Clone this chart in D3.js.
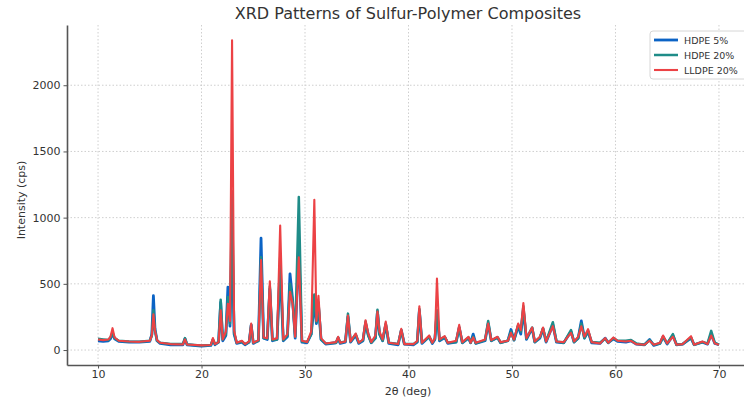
<!DOCTYPE html>
<html>
<head>
<meta charset="utf-8">
<script src="https://cdn.jsdelivr.net/npm/d3@7"></script>
<style>
  body { margin: 0; background: #fff; }
  text { font-family: "DejaVu Sans", sans-serif; fill: #333; }
</style>
</head>
<body>
<div id="chart"></div>
<script>
// 2θ positions shared by all three scans
var twoTheta = [
  10.0, 10.5, 11.0, 11.2, 11.4, 11.6, 12.0, 13.0, 14.0, 15.0,
  15.2, 15.35, 15.5, 15.7, 16.0, 17.0, 18.2, 18.4, 18.6, 20.0,
  20.9, 21.1, 21.3, 21.65, 21.85, 22.05, 22.35, 22.55, 22.75, 22.95,
  23.15, 23.4, 23.9, 24.2, 24.6, 24.8, 25.0, 25.5, 25.75, 26.0,
  26.35, 26.6, 26.85, 27.3, 27.6, 27.9, 28.3, 28.55, 28.8, 29.05,
  29.4, 29.7, 30.2, 30.6, 30.9, 31.1, 31.3, 31.55, 32.0, 33.0,
  33.2, 33.4, 33.9, 34.15, 34.4, 34.9, 35.2, 35.6, 35.85, 36.1,
  36.4, 36.8, 37.0, 37.2, 37.5, 37.8, 38.1, 39.0, 39.3, 39.6,
  40.5, 40.85, 41.05, 41.3, 42.0, 42.3, 42.55, 42.75, 43.0, 43.5,
  43.8, 44.6, 44.9, 45.2, 45.8, 46.0, 46.25, 46.5, 47.4, 47.7,
  48.0, 48.6, 48.9, 49.6, 49.9, 50.2, 50.6, 50.85, 51.1, 51.4,
  51.95, 52.2, 52.7, 53.0, 53.3, 53.95, 54.3, 55.0, 55.7, 56.0,
  56.4, 56.7, 57.0, 57.35, 57.7, 58.5, 59.0, 59.3, 59.8, 60.2,
  61.0, 61.5, 62.0, 62.8, 63.3, 63.7, 64.3, 64.6, 65.0, 65.55,
  65.9, 66.5, 67.3, 67.6, 68.4, 68.9, 69.25, 69.6, 70.0
];

var hdpe5 = [
  70, 65, 70, 85, 125, 85, 65, 60, 60, 65,
  120, 410, 160, 70, 50, 40, 40, 85, 40, 30,
  35, 75, 40, 60, 360, 70, 110, 475, 180, 880,
  120, 50, 60, 40, 60, 190, 50, 70, 845, 90,
  80, 460, 70, 80, 620, 70, 100, 575, 380, 90,
  770, 60, 55, 120, 360, 200, 330, 80, 45, 55,
  90, 50, 60, 250, 60, 110, 50, 70, 200, 120,
  55, 90, 290, 120, 70, 190, 50, 40, 150, 45,
  40, 60, 300, 50, 100, 50, 80, 290, 70, 95,
  50, 60, 170, 55, 90, 55, 120, 50, 70, 200,
  70, 95, 55, 70, 155, 75, 180, 120, 300, 80,
  165, 60, 90, 160, 60, 190, 60, 55, 140, 60,
  90, 220, 90, 140, 55, 50, 90, 55, 85, 65,
  60, 70, 45, 40, 80, 35, 50, 100, 45, 110,
  40, 45, 90, 40, 60, 45, 120, 50, 40
];

var hdpe20 = [
  85, 80, 75, 95, 130, 90, 70, 65, 62, 70,
  110, 300, 150, 70, 55, 45, 45, 90, 42, 35,
  38, 80, 45, 60, 380, 80, 120, 400, 200, 1200,
  130, 55, 65, 45, 60, 190, 55, 70, 700, 90,
  85, 480, 75, 80, 700, 75, 110, 500, 370, 100,
  1155, 65, 60, 120, 420, 210, 360, 80, 50, 55,
  95, 55, 65, 275, 65, 120, 55, 75, 215, 110,
  55, 90, 305, 120, 70, 200, 55, 45, 150, 45,
  45, 65, 310, 55, 100, 55, 85, 300, 75, 100,
  55, 60, 170, 55, 95, 55, 100, 50, 75, 220,
  70, 95, 55, 70, 140, 75, 190, 140, 330, 85,
  170, 60, 95, 165, 65, 210, 65, 55, 150, 60,
  90, 200, 90, 145, 60, 55, 85, 55, 90, 70,
  70, 75, 50, 40, 75, 40, 50, 100, 50, 120,
  40, 45, 95, 40, 60, 50, 145, 55, 40
];

var lldpe20 = [
  80, 75, 80, 100, 165, 95, 70, 65, 62, 70,
  110, 270, 150, 75, 55, 45, 42, 80, 42, 35,
  38, 90, 45, 60, 300, 80, 140, 350, 220, 2340,
  150, 55, 70, 45, 65, 200, 55, 75, 680, 95,
  90, 520, 80, 90, 940, 80, 120, 440, 350, 100,
  700, 70, 60, 140, 1135, 220, 410, 90, 50, 60,
  100, 55, 65, 260, 65, 125, 55, 80, 225, 130,
  60, 110, 290, 140, 80, 215, 55, 45, 160, 45,
  45, 70, 330, 55, 110, 55, 90, 540, 80, 105,
  55, 70, 190, 60, 100, 55, 95, 55, 80, 200,
  75, 100, 60, 70, 130, 80, 200, 150, 355, 90,
  170, 65, 100, 170, 65, 180, 65, 60, 130, 65,
  100, 180, 100, 158, 60, 50, 90, 55, 95, 70,
  65, 70, 45, 40, 70, 40, 55, 110, 50, 100,
  40, 45, 105, 40, 65, 45, 110, 50, 40
];

var seriesNames = ["HDPE 5%", "HDPE 20%", "LLDPE 20%"];
var seriesColors = ["#0b63c5", "#1f8c88", "#ec4245"];
var seriesWidths = [2.8, 2.5, 2.1];
var xTicks = [10, 20, 30, 40, 50, 60, 70];
var yTicks = [0, 500, 1000, 1500, 2000];

var svgWidth = 744;
var svgHeight = 400;

var margin = { top: 25, right: -6, bottom: 35, left: 67 };
var width = svgWidth - margin.left - margin.right;
var height = svgHeight - margin.top - margin.bottom;

var svg = d3.select("#chart")
    .append("svg")
    .attr("width", svgWidth)
    .attr("height", svgHeight);

svg.append("rect")
    .attr("width", svgWidth)
    .attr("height", svgHeight)
    .attr("fill", "#fff");

var chartGroup = svg.append("g")
    .attr("transform", `translate(${margin.left}, ${margin.top})`);

// scales
var xScale = d3.scaleLinear().domain([7, 73]).range([0, width]);
var yScale = d3.scaleLinear().domain([-113, 2455]).range([height, 0]);

// grid
chartGroup.append("g")
    .selectAll("line")
    .data(xTicks)
    .enter()
    .append("line")
    .attr("x1", d => xScale(d))
    .attr("x2", d => xScale(d))
    .attr("y1", 0)
    .attr("y2", height)
    .attr("stroke", "#cfcfcf")
    .attr("stroke-dasharray", "1.5,2");

chartGroup.append("g")
    .selectAll("line")
    .data(yTicks)
    .enter()
    .append("line")
    .attr("x1", 0)
    .attr("x2", width)
    .attr("y1", d => yScale(d))
    .attr("y2", d => yScale(d))
    .attr("stroke", "#cfcfcf")
    .attr("stroke-dasharray", "1.5,2");

// lines
var allSeries = [hdpe5, hdpe20, lldpe20];
allSeries.forEach(function(values, k) {
    var line = d3.line()
        .x((d, i) => xScale(twoTheta[i]))
        .y(d => yScale(d));
    chartGroup.append("path")
        .datum(values)
        .attr("fill", "none")
        .attr("stroke", seriesColors[k])
        .attr("stroke-width", seriesWidths[k])
        .attr("stroke-linejoin", "round")
        .attr("d", line);
});

// axes
var bottomAxis = d3.axisBottom(xScale).tickValues(xTicks).tickFormat(d3.format("d"))
    .tickSize(3.5).tickPadding(2).tickSizeOuter(0);
var leftAxis = d3.axisLeft(yScale).tickValues(yTicks).tickFormat(d3.format("d"))
    .tickSize(3.5).tickPadding(3).tickSizeOuter(0);

var gx = chartGroup.append("g")
    .attr("transform", `translate(0, ${height})`)
    .call(bottomAxis);
var gy = chartGroup.append("g")
    .call(leftAxis);

[gx, gy].forEach(function(g) {
    g.select(".domain").attr("stroke", "#555").attr("stroke-width", 1.6);
    g.selectAll(".tick line").attr("stroke", "#555");
    g.selectAll(".tick text")
        .style("font-family", "DejaVu Sans, sans-serif")
        .style("font-size", "11px")
        .attr("fill", "#333");
});

// labels
svg.append("text")
    .attr("x", 408)
    .attr("y", 19)
    .attr("text-anchor", "middle")
    .style("font-size", "16px")
    .text("XRD Patterns of Sulfur-Polymer Composites");

svg.append("text")
    .attr("x", 408)
    .attr("y", 395)
    .attr("text-anchor", "middle")
    .style("font-size", "11px")
    .text("2θ (deg)");

svg.append("text")
    .attr("transform", "rotate(-90)")
    .attr("x", -200)
    .attr("y", 25)
    .attr("text-anchor", "middle")
    .style("font-size", "11px")
    .text("Intensity (cps)");

// legend
var legend = svg.append("g").attr("transform", "translate(650, 31)");
legend.append("rect")
    .attr("width", 100)
    .attr("height", 48)
    .attr("rx", 3)
    .attr("fill", "#fff")
    .attr("fill-opacity", 0.85)
    .attr("stroke", "#d6d6d6");

seriesNames.forEach(function(name, k) {
    var row = legend.append("g").attr("transform", `translate(0, ${9 + k * 15})`);
    row.append("line")
        .attr("x1", 4).attr("x2", 28)
        .attr("y1", 0).attr("y2", 0)
        .attr("stroke", seriesColors[k])
        .attr("stroke-width", seriesWidths[k]);
    row.append("text")
        .attr("x", 34)
        .attr("y", 3.5)
        .style("font-size", "9.5px")
        .text(name);
});
</script>
</body>
</html>
